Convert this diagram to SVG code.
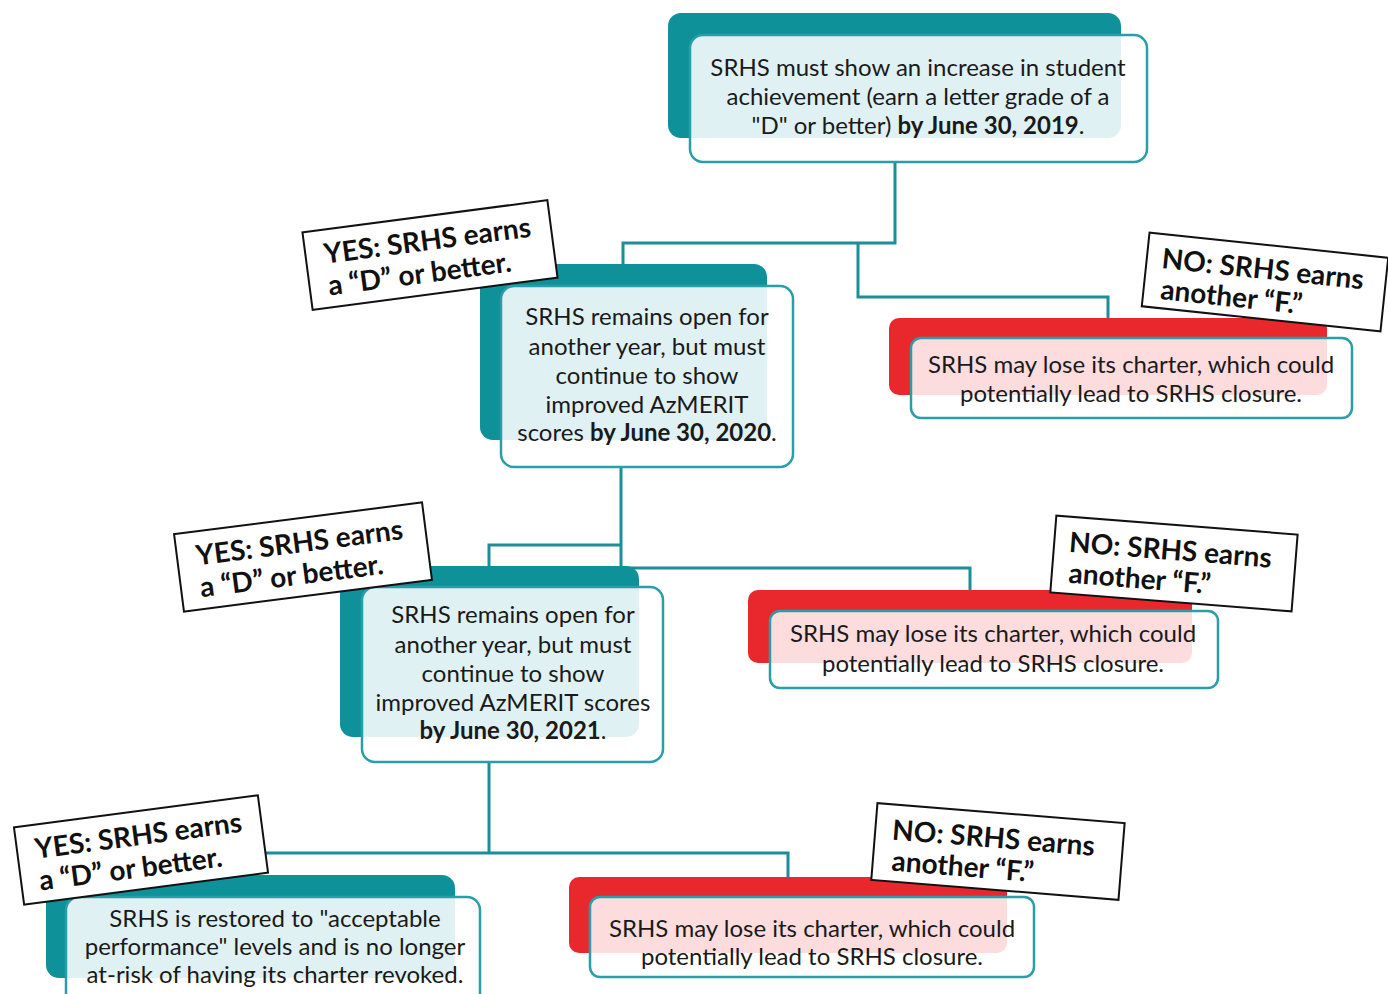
<svg xmlns="http://www.w3.org/2000/svg" width="1388" height="994" viewBox="0 0 1388 994">
<style>
.bg{fill:#ffffff}
.back{fill:#0e9199}
.backr{fill:#e8282d}
.front{fill:#ffffff;fill-opacity:0.87;stroke:#2a9ea6;stroke-width:2.5}
.frontr{fill:#ffffff;fill-opacity:0.84;stroke:#2a9ea6;stroke-width:2.5}
.conn{fill:none;stroke:#1b8e98;stroke-width:3}
.t{font-family:Lato,"Liberation Sans",sans-serif;font-size:24px;fill:#1a1a1a;text-anchor:middle}
.b{font-weight:bold}
.lbl{fill:#ffffff;stroke:#111111;stroke-width:2}
.lt{font-family:Lato,"Liberation Sans",sans-serif;font-size:28px;font-weight:bold;fill:#111111}
</style>
<rect class="bg" x="0" y="0" width="1388" height="994"/>

<g id="connectors">
  <polyline class="conn" points="895,162 895,243 623,243 623,266"/>
  <polyline class="conn" points="858,243 858,297 1108,297 1108,320"/>
  <polyline class="conn" points="621,467 621,568"/>
  <polyline class="conn" points="621,545 489,545 489,568"/>
  <polyline class="conn" points="621,568 970,568 970,592"/>
  <polyline class="conn" points="489,762 489,853"/>
  <polyline class="conn" points="250,853 788,853 788,879"/>
</g>

<g id="n1">
  <rect class="back" x="668" y="13" width="453" height="125" rx="13"/>
  <rect class="front" x="690" y="35" width="457" height="127" rx="13"/>
  <text class="t" x="918" y="76">SRHS must show an increase in student</text>
  <text class="t" x="918" y="105">achievement (earn a letter grade of a</text>
  <text class="t" x="918" y="134">"D" or better) <tspan class="b">by June 30, 2019</tspan>.</text>
</g>

<g id="n2">
  <rect class="back" x="480" y="264" width="287" height="176" rx="13"/>
  <rect class="front" x="501" y="286" width="292" height="181" rx="13"/>
  <text class="t" x="647" y="325">SRHS remains open for</text>
  <text class="t" x="647" y="355">another year, but must</text>
  <text class="t" x="647" y="384">continue to show</text>
  <text class="t" x="647" y="413">improved AzMERIT</text>
  <text class="t" x="647" y="441">scores <tspan class="b">by June 30, 2020</tspan>.</text>
</g>

<g id="n3">
  <rect class="backr" x="889" y="318" width="438" height="77" rx="10"/>
  <rect class="frontr" x="911" y="338" width="441" height="80" rx="10"/>
  <text class="t" x="1131" y="373">SRHS may lose its charter, which could</text>
  <text class="t" x="1131" y="402">potentially lead to SRHS closure.</text>
</g>

<g id="n4">
  <rect class="back" x="340" y="566" width="299" height="171" rx="13"/>
  <rect class="front" x="362" y="587" width="301" height="175" rx="13"/>
  <text class="t" x="513" y="623">SRHS remains open for</text>
  <text class="t" x="513" y="653">another year, but must</text>
  <text class="t" x="513" y="682">continue to show</text>
  <text class="t" x="513" y="711">improved AzMERIT scores</text>
  <text class="t" x="513" y="739"><tspan class="b">by June 30, 2021</tspan>.</text>
</g>

<g id="n5">
  <rect class="backr" x="748" y="590" width="444" height="73" rx="10"/>
  <rect class="frontr" x="770" y="611" width="448" height="77" rx="10"/>
  <text class="t" x="993" y="642">SRHS may lose its charter, which could</text>
  <text class="t" x="993" y="672">potentially lead to SRHS closure.</text>
</g>

<g id="n6">
  <rect class="back" x="46" y="875" width="409" height="103" rx="13"/>
  <rect class="front" x="66" y="897" width="414" height="115" rx="13"/>
  <text class="t" x="275" y="927">SRHS is restored to "acceptable</text>
  <text class="t" x="275" y="955">performance" levels and is no longer</text>
  <text class="t" x="275" y="983">at-risk of having its charter revoked.</text>
</g>

<g id="n7">
  <rect class="backr" x="569" y="877" width="438" height="76" rx="10"/>
  <rect class="frontr" x="590" y="897" width="444" height="80" rx="10"/>
  <text class="t" x="812" y="937">SRHS may lose its charter, which could</text>
  <text class="t" x="812" y="965">potentially lead to SRHS closure.</text>
</g>

<g id="yes1" transform="translate(430,255) rotate(-7.5)">
  <rect class="lbl" x="-123.5" y="-39" width="247" height="78"/>
  <text class="lt" x="-105" y="-5">YES: SRHS earns</text>
  <text class="lt" x="-105" y="27">a “D” or better.</text>
</g>

<g id="no1" transform="translate(1265,282) rotate(6)">
  <rect class="lbl" x="-120" y="-37" width="240" height="74"/>
  <text class="lt" x="-105" y="-3">NO: SRHS earns</text>
  <text class="lt" x="-103" y="28">another “F.”</text>
</g>

<g id="yes2" transform="translate(303,557) rotate(-7.3)">
  <rect class="lbl" x="-125" y="-39" width="250" height="78"/>
  <text class="lt" x="-106" y="-5">YES: SRHS earns</text>
  <text class="lt" x="-106" y="27">a “D” or better.</text>
</g>

<g id="no2" transform="translate(1174,563) rotate(4.5)">
  <rect class="lbl" x="-121" y="-38" width="242" height="77"/>
  <text class="lt" x="-106" y="-3">NO: SRHS earns</text>
  <text class="lt" x="-104" y="28">another “F.”</text>
</g>

<g id="yes3" transform="translate(141,850) rotate(-7.5)">
  <rect class="lbl" x="-123" y="-39" width="246" height="78"/>
  <text class="lt" x="-105" y="-5">YES: SRHS earns</text>
  <text class="lt" x="-105" y="27">a “D” or better.</text>
</g>

<g id="no3" transform="translate(998,851) rotate(4.6)">
  <rect class="lbl" x="-124" y="-38" width="248" height="77"/>
  <text class="lt" x="-107" y="-3">NO: SRHS earns</text>
  <text class="lt" x="-105" y="28">another “F.”</text>
</g>
</svg>
